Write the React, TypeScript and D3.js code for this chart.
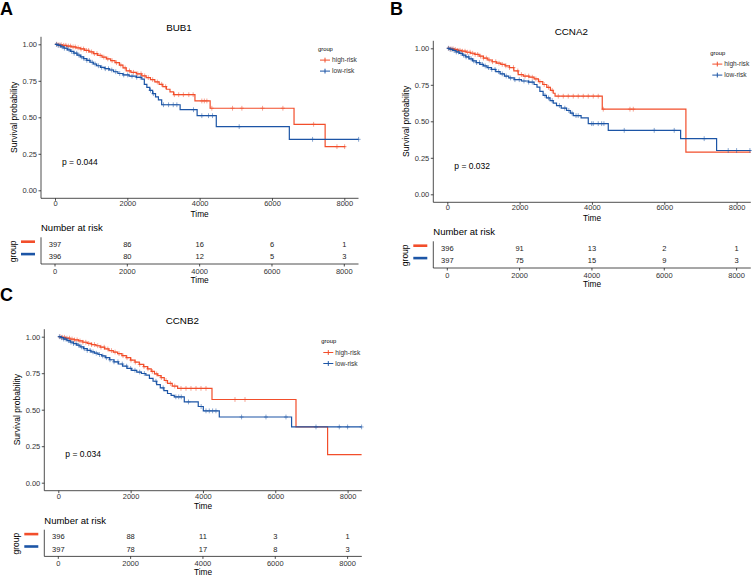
import React, { useEffect, useRef } from 'react'
import * as d3 from 'd3'

type Pt = [number, number]

const timeTicks = [0, 2000, 4000, 6000, 8000]
const survTicks = [0, 0.25, 0.5, 0.75, 1]
const groups = ['high-risk', 'low-risk']

// BUB1
const bub1High: Pt[] = [[0, 1], [100, 0.997], [200, 0.993], [320, 0.988], [450, 0.982], [580, 0.976], [700, 0.968], [820, 0.958], [940, 0.948], [1060, 0.936], [1180, 0.924], [1300, 0.912], [1420, 0.9], [1540, 0.888], [1660, 0.874], [1780, 0.858], [1880, 0.838], [1970, 0.818], [2100, 0.808], [2250, 0.798], [2400, 0.784], [2520, 0.772], [2640, 0.758], [2760, 0.742], [2880, 0.726], [2980, 0.71], [3080, 0.692], [3180, 0.674], [3280, 0.655], [3870, 0.612], [4290, 0.562], [6610, 0.452], [7470, 0.299], [8030, 0.299]]
const bub1HighCensor = [50, 110, 170, 240, 300, 370, 430, 500, 560, 640, 720, 790, 870, 930, 1010, 1090, 1160, 1250, 1350, 1460, 1580, 1700, 1820, 1940, 2060, 2170, 2290, 2380, 2480, 2580, 2700, 2830, 2950, 3060, 3300, 3420, 3550, 3700, 3820, 4060, 4130, 4200, 4337, 4909, 5168, 5739, 6302, 7151, 7797, 8009]
const bub1Low: Pt[] = [[0, 1], [80, 0.992], [160, 0.983], [250, 0.973], [340, 0.962], [430, 0.951], [520, 0.939], [610, 0.926], [700, 0.914], [790, 0.902], [880, 0.89], [970, 0.877], [1060, 0.865], [1150, 0.853], [1260, 0.842], [1380, 0.833], [1500, 0.824], [1620, 0.812], [1740, 0.8], [1880, 0.79], [2050, 0.782], [2250, 0.774], [2400, 0.762], [2470, 0.725], [2540, 0.705], [2620, 0.685], [2700, 0.662], [2780, 0.64], [2860, 0.62], [2950, 0.586], [3460, 0.552], [3930, 0.511], [4460, 0.436], [6480, 0.349], [8396, 0.349]]
const bub1LowCensor = [40, 90, 140, 200, 260, 330, 390, 460, 530, 600, 660, 730, 800, 880, 950, 1030, 1110, 1200, 1290, 1390, 1480, 1570, 1680, 1790, 1900, 2010, 2130, 2260, 2360, 2640, 2720, 3000, 3140, 3270, 3370, 3830, 4060, 4245, 4355, 5093, 7122, 8396]
const bub1Risk = [[397, 86, 16, 6, 1], [396, 80, 12, 5, 3]]

// CCNA2
const ccna2High: Pt[] = [[0, 1], [90, 0.996], [180, 0.992], [290, 0.986], [400, 0.98], [520, 0.973], [640, 0.966], [760, 0.958], [880, 0.946], [1000, 0.933], [1120, 0.92], [1240, 0.908], [1360, 0.898], [1480, 0.89], [1600, 0.88], [1720, 0.868], [1840, 0.845], [1960, 0.82], [2100, 0.81], [2260, 0.802], [2400, 0.79], [2520, 0.772], [2640, 0.752], [2750, 0.733], [2850, 0.712], [2930, 0.692], [2980, 0.672], [4285, 0.583], [6598, 0.289], [8390, 0.289]]
const ccna2HighCensor = [40, 100, 160, 220, 290, 350, 420, 490, 560, 630, 700, 770, 840, 920, 1000, 1080, 1160, 1250, 1340, 1430, 1520, 1620, 1720, 1830, 1950, 2050, 2150, 2250, 2350, 2450, 2560, 2680, 2800, 2900, 3069, 3207, 3345, 3483, 3621, 3760, 3898, 4036, 4174, 4313, 5051, 5143]
const ccna2Low: Pt[] = [[0, 1], [70, 0.993], [150, 0.985], [240, 0.975], [330, 0.965], [420, 0.953], [510, 0.941], [600, 0.928], [700, 0.914], [800, 0.902], [900, 0.89], [1000, 0.879], [1100, 0.868], [1220, 0.855], [1340, 0.84], [1460, 0.825], [1580, 0.81], [1700, 0.797], [1850, 0.785], [2050, 0.776], [2250, 0.768], [2400, 0.752], [2480, 0.734], [2560, 0.705], [2650, 0.677], [2740, 0.66], [2840, 0.642], [2930, 0.625], [3020, 0.608], [3150, 0.59], [3300, 0.574], [3400, 0.556], [3483, 0.539], [3700, 0.524], [3898, 0.484], [4451, 0.438], [6452, 0.381], [7447, 0.3], [8390, 0.3]]
const ccna2LowCensor = [30, 80, 130, 190, 250, 310, 380, 450, 520, 590, 660, 730, 810, 890, 970, 1050, 1140, 1230, 1320, 1420, 1520, 1630, 1750, 1870, 1990, 2120, 2250, 2350, 2700, 2800, 2900, 3100, 3250, 3360, 3450, 3560, 3620, 3992, 4036, 4174, 4268, 4331, 4893, 5722, 6275, 7104, 7768, 8000, 8368]
const ccna2Risk = [[396, 91, 13, 2, 1], [397, 75, 15, 9, 3]]

// CCNB2
const ccnb2High: Pt[] = [[0, 1], [100, 0.996], [200, 0.99], [320, 0.984], [440, 0.978], [560, 0.971], [680, 0.962], [800, 0.954], [920, 0.946], [1040, 0.938], [1160, 0.928], [1280, 0.916], [1400, 0.905], [1520, 0.895], [1640, 0.884], [1760, 0.87], [1880, 0.856], [2000, 0.84], [2120, 0.826], [2240, 0.81], [2360, 0.795], [2470, 0.78], [2570, 0.762], [2660, 0.745], [2750, 0.733], [2840, 0.72], [2930, 0.7], [3020, 0.68], [3150, 0.662], [3300, 0.646], [4250, 0.57], [6573, 0.382], [7447, 0.192], [8387, 0.192]]
const ccnb2HighCensor = [50, 110, 170, 240, 310, 380, 450, 520, 600, 680, 760, 840, 920, 1000, 1090, 1180, 1270, 1370, 1470, 1570, 1680, 1790, 1900, 2010, 2130, 2250, 2370, 2480, 2600, 2720, 2850, 2980, 3100, 3220, 3393, 3531, 3669, 3808, 3946, 4084, 4886, 5163]
const ccnb2Low: Pt[] = [[0, 1], [70, 0.993], [150, 0.984], [240, 0.973], [330, 0.963], [420, 0.953], [510, 0.942], [600, 0.93], [700, 0.918], [800, 0.906], [900, 0.896], [1000, 0.887], [1100, 0.878], [1200, 0.868], [1300, 0.856], [1420, 0.842], [1540, 0.828], [1660, 0.813], [1780, 0.798], [1900, 0.783], [2030, 0.77], [2170, 0.758], [2300, 0.748], [2420, 0.737], [2520, 0.715], [2620, 0.695], [2720, 0.672], [2820, 0.65], [2920, 0.63], [3020, 0.611], [3120, 0.598], [3207, 0.588], [3484, 0.553], [3870, 0.522], [4010, 0.492], [4452, 0.45], [6451, 0.382], [8387, 0.382]]
const ccnb2LowCensor = [30, 90, 150, 210, 280, 350, 420, 490, 560, 640, 720, 800, 880, 960, 1050, 1140, 1230, 1330, 1430, 1540, 1650, 1770, 1890, 2000, 2120, 2250, 2380, 2700, 2900, 3250, 3330, 3400, 3600, 3950, 4084, 4175, 4267, 4360, 5068, 5743, 6296, 7126, 7770, 8000, 8387]
const ccnb2Risk = [[396, 88, 11, 3, 1], [397, 78, 17, 8, 3]]

const COLORS = ['#F24E2B', '#1C55A6']
const FONT = '"Liberation Sans", Arial, sans-serif'

const panels = [
  { letter: 'A', lx: 0, ly: 15, title: 'BUB1', p: 'p = 0.044', ox: 41, oy: 44.3, curves: [bub1High, bub1Low], censors: [bub1HighCensor, bub1LowCensor], risk: bub1Risk },
  { letter: 'B', lx: 390, ly: 15, title: 'CCNA2', p: 'p = 0.032', ox: 433.3, oy: 48.3, curves: [ccna2High, ccna2Low], censors: [ccna2HighCensor, ccna2LowCensor], risk: ccna2Risk },
  { letter: 'C', lx: 0, ly: 301, title: 'CCNB2', p: 'p = 0.034', ox: 44.3, oy: 336.7, curves: [ccnb2High, ccnb2Low], censors: [ccnb2HighCensor, ccnb2LowCensor], risk: ccnb2Risk },
]

const stepAt = (steps: Pt[], t: number) => {
  let s = steps[0][1]
  for (const [st, sv] of steps) {
    if (st <= t) s = sv
    else break
  }
  return s
}

const App = () => {
  const ref = useRef<SVGSVGElement>(null)

  useEffect(() => {
    const svg = d3.select(ref.current)
    svg.selectAll('*').remove()

    const x = d3.scaleLinear().domain([0, 8000]).range([14, 303.3])
    const y = d3.scaleLinear().domain([0, 1]).range([146, 0])
    const right = 317.5
    const bottom = 154

    panels.forEach(pn => {
      svg.append('text')
        .attr('x', pn.lx).attr('y', pn.ly)
        .attr('font-size', 18).attr('font-weight', 'bold')
        .text(pn.letter)

      const g = svg.append('g').attr('transform', `translate(${pn.ox},${pn.oy})`)

      g.append('text')
        .attr('x', 138).attr('y', -13)
        .attr('text-anchor', 'middle').attr('font-size', 9.8)
        .text(pn.title)

      // axes
      const yAxis = g.append('g')
        .call(d3.axisLeft(y).tickValues(survTicks).tickFormat(d3.format('.2f')).tickSize(2.5).tickSizeOuter(0))
      yAxis.select('.domain').attr('d', `M0,-7.5V${bottom}`)
      const xAxis = g.append('g')
        .attr('transform', `translate(0,${bottom})`)
        .call(d3.axisBottom(x).tickValues(timeTicks).tickFormat(d3.format('d')).tickSize(2.5).tickSizeOuter(0))
      xAxis.select('.domain').attr('d', `M0,0H${right}`)
      g.selectAll('.tick text').attr('font-size', 7.5).attr('font-family', FONT).attr('fill', '#333')
      g.selectAll('.domain, .tick line').attr('stroke', '#222').attr('stroke-width', 0.8)
      yAxis.selectAll('.tick text').attr('x', -4)
      xAxis.selectAll('.tick text').attr('y', 2.6)

      g.append('text')
        .attr('transform', 'translate(-27,73) rotate(-90)')
        .attr('text-anchor', 'middle').attr('dy', '0.35em').attr('font-size', 8.5)
        .text('Survival probability')
      g.append('text')
        .attr('x', x(4000)).attr('y', 172.6)
        .attr('text-anchor', 'middle').attr('font-size', 8.3)
        .text('Time')

      // curves
      const line = d3.line<Pt>().x(d => x(d[0])).y(d => y(d[1])).curve(d3.curveStepAfter)
      pn.curves.forEach((c, i) => {
        g.append('path')
          .attr('d', line(c))
          .attr('fill', 'none').attr('stroke', COLORS[i]).attr('stroke-width', 1.2)
        g.append('g')
          .selectAll('path')
          .data(pn.censors[i])
          .enter()
          .append('path')
          .attr('d', t => {
            const cx = x(t), cy = y(stepAt(c, t))
            return `M${cx - 2},${cy}H${cx + 2}M${cx},${cy - 2.4}V${cy + 2.4}`
          })
          .attr('stroke', COLORS[i]).attr('stroke-width', 0.8).attr('opacity', 0.65)
      })

      g.append('text')
        .attr('x', 21).attr('y', 120.5).attr('font-size', 8.5)
        .text(pn.p)

      // legend
      g.append('text').attr('x', 277).attr('y', 6.5).attr('font-size', 5.8).text('group')
      groups.forEach((name, i) => {
        const ly = 15.8 + i * 11
        g.append('path')
          .attr('d', `M279,${ly}H289M284,${ly - 2.4}V${ly + 2.4}`)
          .attr('stroke', COLORS[i]).attr('stroke-width', 1)
        g.append('text').attr('x', 291).attr('y', ly + 2.3).attr('font-size', 6.6).attr('fill', '#333').text(name)
      })

      // risk table
      g.append('text').attr('x', 0).attr('y', 187).attr('font-size', 9.5).text('Number at risk')
      const tbl = g.append('g')
      tbl.append('path')
        .attr('d', `M0,193V219.7H${right}`)
        .attr('fill', 'none').attr('stroke', '#222').attr('stroke-width', 0.8)
      tbl.selectAll('.tk')
        .data(timeTicks)
        .enter()
        .append('line')
        .attr('x1', d => x(d)).attr('x2', d => x(d))
        .attr('y1', 219.7).attr('y2', 222.2)
        .attr('stroke', '#222').attr('stroke-width', 0.8)
      tbl.selectAll('.tl')
        .data(timeTicks)
        .enter()
        .append('text')
        .attr('x', d => x(d)).attr('y', 229.5)
        .attr('text-anchor', 'middle').attr('font-size', 7.5).attr('fill', '#333')
        .text(d => d)
      tbl.append('text')
        .attr('x', x(4000)).attr('y', 238.8)
        .attr('text-anchor', 'middle').attr('font-size', 8.3)
        .text('Time')
      tbl.append('text')
        .attr('transform', 'translate(-28,207) rotate(-90)')
        .attr('text-anchor', 'middle').attr('dy', '0.35em').attr('font-size', 8.5)
        .text('group')
      pn.risk.forEach((row, i) => {
        const ry = 202.7 + i * 12.4
        tbl.append('line')
          .attr('x1', -20).attr('x2', -6)
          .attr('y1', ry - 5.3).attr('y2', ry - 5.3)
          .attr('stroke', COLORS[i]).attr('stroke-width', 2.6)
        tbl.selectAll(`.r${i}`)
          .data(row)
          .enter()
          .append('text')
          .attr('x', (d, j) => x(timeTicks[j])).attr('y', ry)
          .attr('text-anchor', 'middle').attr('font-size', 7.5).attr('fill', '#222')
          .text(d => d)
      })
    })
  }, [])

  return (
    <svg
      ref={ref}
      width={753}
      height={577}
      style={{ position: 'absolute', left: 0, top: 0, background: '#fff', fontFamily: FONT }}
    />
  )
}

export default App
